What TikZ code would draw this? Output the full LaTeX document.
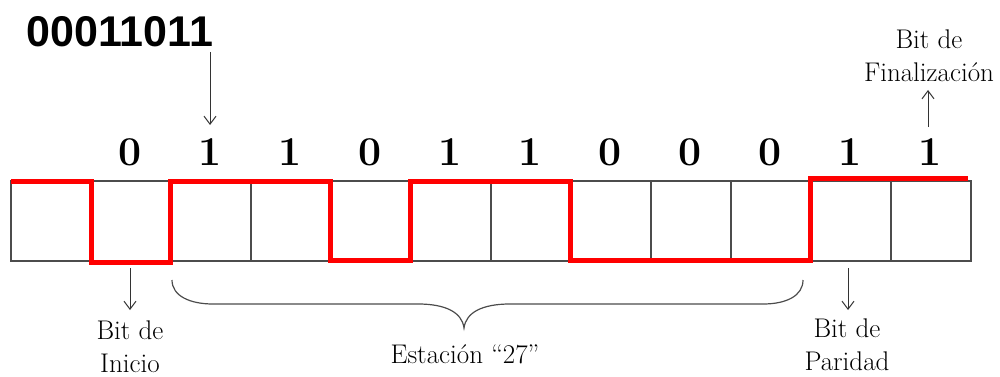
\documentclass[tikz,border=0pt]{standalone}
\usepackage{fontspec}
\newfontfamily\bytefont{Liberation Sans}
\usetikzlibrary{arrows.meta}
\begin{document}
\begin{tikzpicture}[x=1pt,y=-1pt,
  cell/.style={draw=black!70,line width=1.2pt},
  signal/.style={draw=red,line width=5pt,line join=miter},
  bitlabel/.style={font=\fontsize{41}{48}\selectfont\bfseries,anchor=base,inner sep=0pt},
  note/.style={font=\fontsize{27}{33}\selectfont,align=center,anchor=base,inner sep=0pt},
  pointer/.style={draw=black!80,line width=1pt,-{Straight Barb[length=8pt,width=12pt,line width=1pt]}}]
\useasboundingbox (0,0) rectangle (1000,377);

% row of twelve cells
\foreach \i in {0,...,11}{
  \draw[cell] ({11+80*\i},181) rectangle ({11+80*(\i+1)},261);
}

% transmitted waveform
\draw[signal] (11,181) -- (91,181) -- (91,262) -- (170,262) -- (170,181)
  -- (330,181) -- (330,260) -- (410,260) -- (410,181) -- (570,181)
  -- (570,260) -- (810,260) -- (810,178) -- (968,178);

% bit values above the cells
\foreach \b [count=\k] in {0,1,1,0,1,1,0,0,0,1,1}{
  \node[bitlabel] (b\k) at ({50+80*\k},165) {\b};
}

% byte being sent
\node[font=\fontsize{43}{48}\selectfont\bytefont\bfseries,anchor=base,inner sep=0pt]
  (byte) at (120,47) {00011011};
\coordinate (byteend) at (210,52);
\coordinate (bitin) at (210,125);
\draw[pointer] (byteend) -- (bitin);

% stop bit (base anchor sits on the last line)
\node[note] (fin) at (929,82) {Bit de\\Finalización};
\coordinate (finlow) at (928,127);
\coordinate (finhigh) at (928,90);
\draw[pointer] (finlow) -- (finhigh);

% start bit
\coordinate (initop) at (130,268);
\coordinate (inibot) at (130,310);
\draw[pointer] (initop) -- (inibot);
\node[note] (ini) at (130,372) {Bit de\\Inicio};

% parity bit
\coordinate (partop) at (848,268);
\coordinate (parbot) at (848,310);
\draw[pointer] (partop) -- (parbot);
\node[note] (par) at (847,370) {Bit de\\Paridad};

% brace under the station bits
\draw[draw=black!70,line width=1.2pt]
  (172,280) .. controls (172,296) and (190,304) .. (213,304) -- (418,304)
  .. controls (445,304) and (462,312) .. (464,328)
  .. controls (466,312) and (483,304) .. (510,304) -- (763,304)
  .. controls (786,304) and (803,296) .. (803,280);
\node[font=\fontsize{27}{33}\selectfont,anchor=base,inner sep=0pt] (est) at (465,363) {Estación “27”};
\end{tikzpicture}
\end{document}
